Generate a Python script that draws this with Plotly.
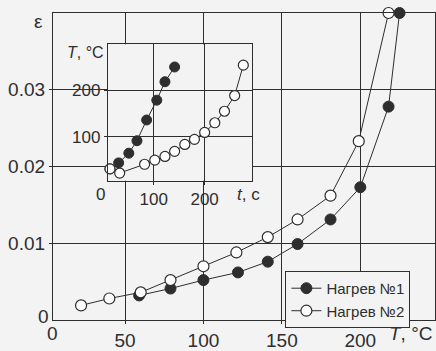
import plotly.graph_objects as go

# ---- main chart data: strain vs temperature ----
T_fill = [59, 79, 100, 122, 141, 160, 181, 200, 218, 225]
eps_fill = [0.0032, 0.0041, 0.0052, 0.0062, 0.0076, 0.0099, 0.0131, 0.0173, 0.0278, 0.0400]
T_open = [22, 40, 60, 79, 100, 121, 141, 160, 181, 199, 218]
eps_open = [0.0019, 0.0028, 0.0036, 0.0052, 0.0070, 0.0088, 0.0108, 0.0131, 0.0162, 0.0233, 0.0400]

# ---- inset data: temperature vs time ----
t_fill = [14, 31, 51, 67, 86, 106, 122, 141]
Tt_fill = [30, 43, 64, 91, 136, 179, 219, 251]
t_open = [14, 33, 82, 102, 122, 141, 161, 180, 200, 220, 239, 259, 276]
Tt_open = [30, 21, 40, 49, 57, 68, 83, 94, 109, 130, 155, 189, 255]

x_ticks = [50, 100, 150, 200]
y_ticks = [0.01, 0.02, 0.03]
y_ticktext = ["0.01", "0.02", "0.03"]
t_ticks = [100, 200]
Ti_ticks = [100, 200]
names = ["Нагрев №1", "Нагрев №2"]

W, H = 436, 351
L, R, T, B = 53, 0, 13, 25
PW, PH = W - L - R, H - T - B


def px(x):
    return (x - L) / PW


def py(y):
    return (H - B - y) / PH


INK = "#2e2e2e"
BG = "#f3f3f3"
FONT = "Liberation Sans, Arial, sans-serif"

fig = go.Figure()
fig.add_trace(go.Scatter(x=T_fill, y=eps_fill, mode="lines+markers", name=names[0],
                         line=dict(color=INK, width=1),
                         marker=dict(size=11, color=INK, line=dict(color=INK, width=1)),
                         cliponaxis=False))
fig.add_trace(go.Scatter(x=T_open, y=eps_open, mode="lines+markers", name=names[1],
                         line=dict(color=INK, width=1),
                         marker=dict(size=11, color="white", line=dict(color=INK, width=1.2)),
                         cliponaxis=False))
fig.add_trace(go.Scatter(x=t_fill, y=Tt_fill, mode="lines+markers", showlegend=False,
                         xaxis="x2", yaxis="y2",
                         line=dict(color=INK, width=1),
                         marker=dict(size=10, color=INK, line=dict(color=INK, width=1)),
                         cliponaxis=False))
fig.add_trace(go.Scatter(x=t_open, y=Tt_open, mode="lines+markers", showlegend=False,
                         xaxis="x2", yaxis="y2",
                         line=dict(color=INK, width=1),
                         marker=dict(size=10, color="white", line=dict(color=INK, width=1.2)),
                         cliponaxis=False))

axis_common = dict(showgrid=True, gridcolor=INK, gridwidth=1, showline=True, linecolor=INK,
                   linewidth=1.2, mirror=True, ticks="outside", ticklen=3, tickcolor=INK,
                   zeroline=False, tickfont=dict(size=19, color=INK, family=FONT))

fig.update_layout(
    width=W, height=H,
    margin=dict(l=L, r=R, t=T, b=B, pad=0),
    paper_bgcolor=BG, plot_bgcolor=BG,
    font=dict(family=FONT, color=INK),
    xaxis=dict(domain=[0, 1], range=[4.1, 247.6], tickvals=x_ticks, **axis_common),
    yaxis=dict(domain=[0, 1], range=[0, 0.04], tickvals=y_ticks, ticktext=y_ticktext, **axis_common),
    xaxis2=dict(domain=[px(108), px(253)], range=[9.8, 294], tickvals=t_ticks, anchor="y2",
                **{**axis_common, "tickfont": dict(size=17, color=INK, family=FONT)}),
    yaxis2=dict(domain=[py(184), py(45)], range=[4.3, 300], tickvals=Ti_ticks, anchor="x2",
                **{**axis_common, "tickfont": dict(size=17, color=INK, family=FONT)}),
    legend=dict(x=px(286), y=py(276), xanchor="left", yanchor="top",
                bgcolor=BG, bordercolor=INK, borderwidth=1,
                font=dict(size=15, color=INK, family=FONT), itemwidth=30,
                tracegroupgap=0),
    showlegend=True,
)

# opaque background for the inset so that main grid lines do not show through it
fig.add_shape(type="rect", xref="x2 domain", yref="y2 domain", x0=0, x1=1, y0=0, y1=1,
              fillcolor=BG, line=dict(width=0), layer="below")

ann = [
    ("ε", 38, 22, 19, "center"),
    ("0", 43, 322, 19, "center"),
    ("0", 52, 340, 19, "center"),
    ("<i>T</i>, °C", 436, 340, 19, "right"),
    ("<i>T</i>, °C", 86, 53, 16, "center"),
    ("0", 101, 198, 17, "center"),
    ("<i>t</i>, c", 249, 198, 17, "center"),
]
for text, x, y, size, anchor in ann:
    fig.add_annotation(text=text, x=px(x), y=py(y), xref="paper", yref="paper",
                       xanchor=anchor, yanchor="middle", showarrow=False,
                       font=dict(size=size, color=INK, family=FONT))

fig.write_html("out.html")
